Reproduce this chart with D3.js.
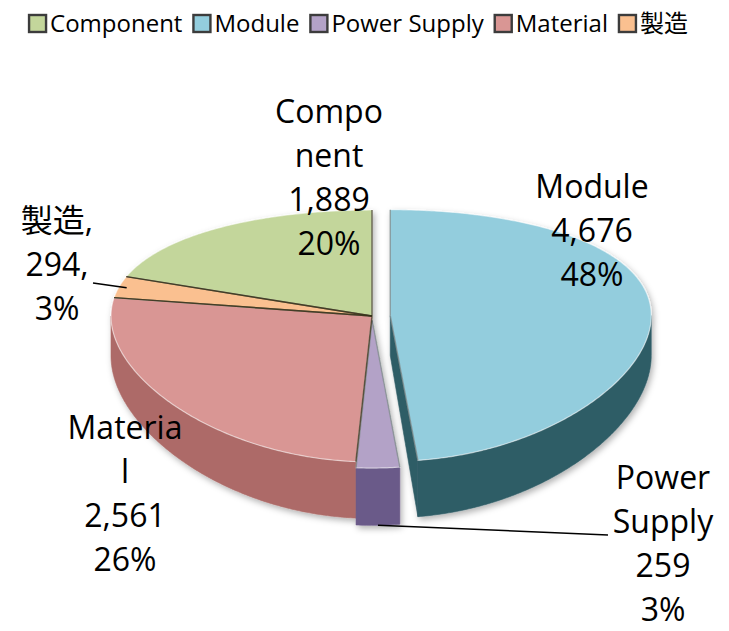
<!DOCTYPE html>
<html lang="en">
<head>
<meta charset="UTF-8">
<title>3D Pie - Cost Breakdown</title>
<script src="https://d3js.org/d3.v7.min.js"></script>
<style>
  body { margin: 0; background: #fff; }
  svg { display: block; font-family: "Open Sans", "Noto Sans CJK JP", sans-serif; }
</style>
</head>
<body>
<div id="chart"></div>
<script>
// slices, in legend order
const categories = ["Component", "Module", "Power Supply", "Material", "製造"];
const values = [1889, 4676, 259, 2561, 294];
// how the data labels wrap in the original
const nameLines = [["Compo", "nent"], ["Module"], ["Power", "Supply"], ["Materia", "l"], ["製造,"]];
const valueSuffix = ["", "", "", "", ","];

const topColors = ["#c3d69b", "#93cddd", "#b3a2c7", "#d99694", "#fac090"];
const sideColors = ["#7e9158", "#2f5d66", "#6b5a89", "#ad6a67", "#c58b57"];
const explode = [0, 0.07, 0.035, 0, 0];

// label placement: centre x, first baseline (px)
const labelAt = [[329, 123], [592, 198], [663, 489], [125, 439], [57, 232]];
// where the leader lines leave the label (px), null = no leader
const leaderFrom = [null, null, [608, 535], null, [93, 283]];

const width = 729, height = 631;
const total = d3.sum(values);
const fmt = d3.format(",");

const svg = d3.select("#chart").append("svg")
  .attr("width", width)
  .attr("height", height);

const defs = svg.append("defs");
const shadow = defs.append("filter").attr("id", "shadow")
  .attr("x", "-10%").attr("y", "-10%").attr("width", "120%").attr("height", "130%");
shadow.append("feDropShadow")
  .attr("dx", 2).attr("dy", 3).attr("stdDeviation", 3)
  .attr("flood-color", "#000").attr("flood-opacity", 0.3);

// tilted pie projection (Excel style: squashed, nearer half drawn taller)
const cx = 372, cy = 316, A = 261, B = 122.8, K = 0.1587, H = 40;
function persp(v) { return 1 / (1 + K * v); }
function proj(u, v, bottom) {
  const p = persp(v);
  return [cx + u * A, cy - v * B * p + (bottom ? H * p * p : 0)];
}
function point(o, a, r, bottom) {
  return proj(o[0] + r * Math.sin(a), o[1] + r * Math.cos(a), bottom);
}
function arcPts(o, a0, a1, r, bottom) {
  const n = Math.max(2, Math.ceil(Math.abs(a1 - a0) / 0.01));
  return d3.range(n + 1).map(j => point(o, a0 + (a1 - a0) * j / n, r, bottom));
}

const start = -2 * Math.PI * values[0] / total;
const pie = d3.pie().sort(null).value(d => d)
  .startAngle(start).endAngle(start + 2 * Math.PI);
const arcs = pie(values);

const line = d3.line();
const sideFaces = [];
arcs.forEach((d, i) => {
  const mid = (d.startAngle + d.endAngle) / 2;
  d.index = i;
  d.mid = mid;
  d.o = [explode[i] * Math.sin(mid), explode[i] * Math.cos(mid)];
  const n = arcs.length;
  const prevEx = explode[(i + n - 1) % n] > 0, nextEx = explode[(i + 1) % n] > 0;
  const own = explode[i] > 0;

  // outer curved side, only the half that faces us
  const s = Math.max(d.startAngle, Math.PI / 2), e = Math.min(d.endAngle, 3 * Math.PI / 2);
  if (e > s) {
    const pts = arcPts(d.o, s, e, 1, false).concat(arcPts(d.o, e, s, 1, true));
    sideFaces.push({ i, pts, depth: d.o[1] + Math.cos((s + e) / 2) });
  }
  // flat cut faces opened up by exploded slices
  const cuts = [];
  if ((own || prevEx) && Math.sin(d.startAngle) < -1e-3) cuts.push(d.startAngle);
  if ((own || nextEx) && Math.sin(d.endAngle) > 1e-3) cuts.push(d.endAngle);
  cuts.forEach(a => {
    const pts = [point(d.o, a, 0, false), point(d.o, a, 1, false),
                 point(d.o, a, 1, true), point(d.o, a, 0, true)];
    sideFaces.push({ i, pts, depth: d.o[1] + Math.cos(a) / 2 });
  });
});
sideFaces.sort((a, b) => b.depth - a.depth);

const pieG = svg.append("g").attr("filter", "url(#shadow)");

pieG.selectAll("path.side")
  .data(sideFaces)
  .join("path")
  .attr("class", "side")
  .attr("d", f => line(f.pts) + "Z")
  .attr("fill", f => sideColors[f.i])
  .attr("stroke", f => sideColors[f.i])
  .attr("stroke-width", 0.6);

pieG.selectAll("path.top")
  .data(arcs)
  .join("path")
  .attr("class", "top")
  .attr("d", d => line([point(d.o, 0, 0, false)].concat(arcPts(d.o, d.startAngle, d.endAngle, 1, false))) + "Z")
  .attr("fill", (d, i) => topColors[i])
  .attr("stroke", "rgba(255,255,255,0.55)")
  .attr("stroke-width", 1.2);

// radial edges on the top faces
const edges = [];
arcs.forEach(d => {
  edges.push({ d, a: d.startAngle });
  edges.push({ d, a: d.endAngle });
});
pieG.selectAll("line.edge")
  .data(edges)
  .join("line")
  .attr("class", "edge")
  .attr("x1", e => point(e.d.o, e.a, 0, false)[0])
  .attr("y1", e => point(e.d.o, e.a, 0, false)[1])
  .attr("x2", e => point(e.d.o, e.a, 1, false)[0])
  .attr("y2", e => point(e.d.o, e.a, 1, false)[1])
  .attr("stroke", e => explode[e.d.index] > 0 ? "rgba(40,60,60,0.45)" : "rgba(55,50,25,0.75)")
  .attr("stroke-width", 1.4);

// leader lines
arcs.forEach((d, i) => {
  if (!leaderFrom[i]) return;
  const bottom = d.mid > Math.PI / 2 && d.mid < 3 * Math.PI / 2;
  const end = bottom ? point(d.o, d.mid, 1, true) : point(d.o, d.mid, 0.97, false);
  svg.append("line")
    .attr("x1", leaderFrom[i][0]).attr("y1", leaderFrom[i][1])
    .attr("x2", end[0]).attr("y2", end[1])
    .attr("stroke", "#000").attr("stroke-width", 1.5);
});

// data labels
const lineGap = 44;
arcs.forEach((d, i) => {
  const pct = Math.round(values[i] / total * 100) + "%";
  const lines = nameLines[i].concat([fmt(values[i]) + valueSuffix[i], pct]);
  const t = svg.append("text")
    .attr("text-anchor", "middle")
    .style("font-size", "32px")
    .attr("fill", "#000");
  lines.forEach((l, j) => {
    t.append("tspan")
      .attr("x", labelAt[i][0])
      .attr("y", labelAt[i][1] + j * lineGap)
      .text(l);
  });
});

// legend across the top
const legend = svg.append("g");
let lx = 0;
categories.forEach((c, i) => {
  const g = legend.append("g").attr("transform", `translate(${lx},0)`);
  g.append("rect")
    .attr("x", 1).attr("y", 15).attr("width", 17).attr("height", 17)
    .attr("fill", topColors[i])
    .attr("stroke", "#3c3c3c").attr("stroke-width", 2.4);
  const t = g.append("text")
    .attr("x", 22).attr("y", 32)
    .style("font-size", "24px")
    .text(c);
  lx += 22 + t.node().getComputedTextLength() + 10;
});
legend.attr("transform", `translate(${358 - (lx - 10) / 2},0)`);
</script>
</body>
</html>
